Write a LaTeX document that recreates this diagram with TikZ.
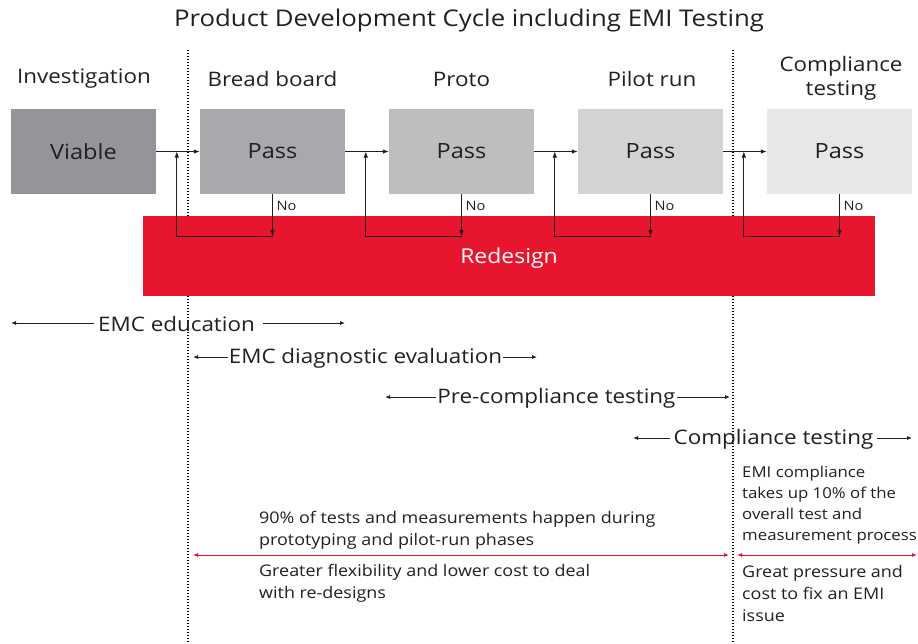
\documentclass[tikz,border=0pt]{standalone}
\usepackage{fontspec}
\setmainfont{Open Sans}[FakeStretch=1.12]
\usetikzlibrary{arrows.meta}
\definecolor{stage0}{HTML}{939598}
\definecolor{stage1}{HTML}{A7A9AC}
\definecolor{stage2}{HTML}{BCBEC0}
\definecolor{stage3}{HTML}{D1D3D4}
\definecolor{stage4}{HTML}{E6E7E8}
\definecolor{redesign}{HTML}{E8152F}
\definecolor{txt}{HTML}{231F20}

\begin{document}
\begin{tikzpicture}[x=1pt,y=-1pt,
    stagebox/.style={fill=#1,minimum width=145pt,minimum height=85pt,inner sep=0pt,font=\fontsize{21}{24}\selectfont,text=txt},
    flow/.style={-{Latex[length=6pt,width=4.5pt]},line width=0.8pt,txt},
    span/.style={-{Latex[length=5pt,width=4pt]},line width=0.8pt,txt},
    redspan/.style={{Latex[length=5pt,width=4pt]}-{Latex[length=5pt,width=4pt]},line width=0.8pt,redesign},
    head/.style={font=\fontsize{20}{24}\selectfont,text=txt,align=center},
    spanlab/.style={font=\fontsize{20}{23}\selectfont,text=txt,inner sep=4pt},
    note/.style={font=\fontsize{16}{22}\selectfont,text=txt,align=left,anchor=north west,inner sep=0pt},
    sidenote/.style={font=\fontsize{15}{21}\selectfont,text=txt,align=left,anchor=north west,inner sep=0pt}]
\useasboundingbox (0,0) rectangle (918,643);

\node[head,font=\fontsize{23}{26}\selectfont] (title) at (469,21) {Product Development Cycle including EMI Testing};

% phase boundaries
\coordinate (b1top) at (188,50);  \coordinate (b1bot) at (188,643);
\coordinate (b2top) at (733,50);  \coordinate (b2bot) at (733,643);
\draw[line width=1.3pt,dash pattern=on 1.3pt off 1.7pt] (b1top) -- (b1bot);
\draw[line width=1.3pt,dash pattern=on 1.3pt off 1.7pt] (b2top) -- (b2bot);

% redesign band
\node[fill=redesign,minimum width=732pt,minimum height=80pt,inner sep=0pt] (redo) at (509,256) {};
\node[text=white,font=\fontsize{20.5}{23}\selectfont] (redolab) at (509,258) {Redesign};

% stages
\node[stagebox=stage0] (p0) at (83.5,151.5) {Viable};
\foreach \i/\cx/\col in {1/272.5/stage1,2/461.5/stage2,3/650.5/stage3,4/839.5/stage4}
  \node[stagebox=\col] (p\i) at (\cx,151.5) {Pass};

\node[head] (h0) at (84,79) {Investigation};
\node[head] (h1) at (272.5,79) {Bread board};
\node[head] (h2) at (461.5,79) {Proto};
\node[head] (h3) at (652,79) {Pilot run};
\node[head] (h4) at (841,78) {Compliance\\testing};

\foreach \j/\i in {0/1,1/2,2/3,3/4}
  \draw[flow] (p\j.east) -- (p\i.west);

% feedback loops
\foreach \i in {1,2,3,4}{
  \draw[flow] (p\i.south) -- ++(0,42) coordinate (d\i);
  \coordinate (f\i) at ([xshift=-23pt]p\i.west);
  \draw[flow] (d\i) -| (f\i);
  \node[anchor=west,inner sep=0pt,font=\fontsize{13}{15}\selectfont,text=txt] (no\i) at ([xshift=4pt,yshift=-12pt]p\i.south) {No};
}

% activity spans
\node[spanlab] (edu) at (176.5,324) {EMC education};
\coordinate (eduL) at (11,323); \coordinate (eduR) at (345,323);
\draw[span] (edu.west |- eduL) -- (eduL);
\draw[span] ([xshift=4pt]edu.east |- eduR) -- (eduR);

\node[spanlab,inner sep=1pt] (diag) at (365.5,358) {EMC diagnostic evaluation};
\coordinate (diagL) at (193,357); \coordinate (diagR) at (537,357);
\draw[span] (diag.west |- diagL) -- (diagL);
\draw[span] (diag.east |- diagR) -- (diagR);

\node[spanlab,inner sep=1pt] (pre) at (556.5,398) {Pre-compliance testing};
\coordinate (preL) at (385,397); \coordinate (preR) at (730,397);
\draw[span] (pre.west |- preL) -- (preL);
\draw[span] (pre.east |- preR) -- (preR);

\node[spanlab] (comp) at (773.5,439) {Compliance testing};
\coordinate (compL) at (633,438); \coordinate (compR) at (912,438);
\draw[span] (comp.west |- compL) -- (compL);
\draw[span] (comp.east |- compR) -- (compR);

% notes
\node[sidenote] (share) at (742,466) {EMI compliance\\takes up 10\% of the\\overall test and\\measurement process};
\node[note] (ninety) at (259,511) {90\% of tests and measurements happen during\\prototyping and pilot-run phases};
\node[note] (flex) at (259,564) {Greater flexibility and lower cost to deal\\with re-designs};
\node[sidenote,font=\fontsize{16}{22}\selectfont] (press) at (742,565) {Great pressure and\\cost to fix an EMI\\issue};

\coordinate (r1L) at (193,555); \coordinate (r1R) at (729,555);
\coordinate (r2L) at (737,555); \coordinate (r2R) at (917,555);
\draw[redspan] (r1L) -- (r1R);
\draw[redspan] (r2L) -- (r2R);
\end{tikzpicture}
\end{document}
